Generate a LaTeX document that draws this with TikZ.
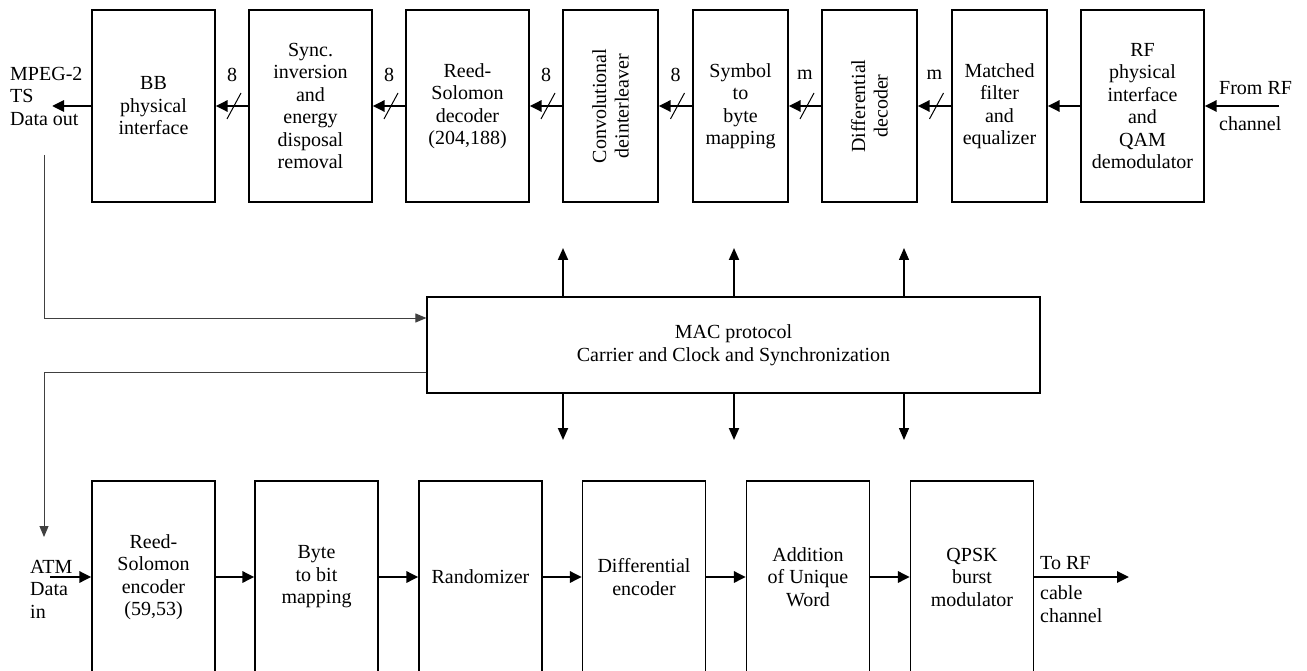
\documentclass[tikz,border=0pt]{standalone}
\usepackage{fontspec}
\setmainfont{Liberation Serif}
\usetikzlibrary{arrows.meta,calc}
\newcommand\blockfont{\fontsize{20}{22.5}\selectfont}
\begin{document}
\begin{tikzpicture}[x=1pt,y=-1pt,
  blk/.style={draw, line width=1.2pt, inner sep=0pt, align=center, font=\blockfont,
              minimum height=192pt},
  wide/.style={blk, minimum width=123pt},
  narrow/.style={blk, minimum width=95pt},
  vert/.style={draw, line width=1.2pt, inner sep=0pt, align=center, font=\blockfont,
              rotate=90, minimum width=192pt, minimum height=95pt},
  lbl/.style={inner sep=0pt, align=left, font=\blockfont},
  chain/.style={line width=2.8pt, -{Triangle[length=12pt,width=11pt]}},
  ctl/.style={line width=1.9pt, -{Triangle[length=12pt,width=10pt]}},
  ctlthin/.style={line width=1.3pt, -{Triangle[length=12pt,width=10pt]}},
  fb/.style={line width=0.9pt, draw=black!75},
  fbarrow/.style={fb, -{Triangle[length=11pt,width=9pt]}},
  slash/.style={line width=1pt},
]
\useasboundingbox (0,0) rectangle (1307,671);
\fill[white] (0,0) rectangle (1307,671);

% ---------------- downstream receiver chain ----------------
\node[wide]   (bb)   at (153.5,106) {BB\\physical\\interface};
\node[wide]   (sync) at (310.5,106) {Sync.\\inversion\\and\\energy\\disposal\\removal};
\node[wide]   (rsd)  at (467.5,106) {Reed-\\Solomon\\decoder\\(204,188)};
\node[vert]   (conv) at (610.5,106) {Convolutional\\deinterleaver};
\node[narrow] (sym)  at (740.5,106) {Symbol\\to\\byte\\mapping};
\node[vert]   (diff) at (869.5,106) {Differential\\decoder};
\node[narrow] (mf)   at (999.5,106) {Matched\\filter\\and\\equalizer};
\node[wide]   (rf)   at (1142.5,106) {RF\\physical\\interface\\and\\QAM\\demodulator};

\coordinate (rfin) at (1279,106);
\coordinate (tsout) at (52,106);
\node[lbl, anchor=west] (fromrf) at (1219,88) {From RF};
\node[lbl, anchor=west] (fromch) at (1219,124) {channel};
\node[lbl, anchor=west] (mpeg) at (10,96) {MPEG-2\\TS\\Data out};

\draw[chain] (rfin) -- (rf.east);
\draw[chain] (rf.west) -- (mf.east);
\draw[chain] (mf.west) -- (diff.south);
\draw[chain] (diff.north) -- (sym.east);
\draw[chain] (sym.west) -- (conv.south);
\draw[chain] (conv.north) -- (rsd.east);
\draw[chain] (rsd.west) -- (sync.east);
\draw[chain] (sync.west) -- (bb.east);
\draw[chain] (bb.west) -- (tsout);

% bus-width marks on the parallel links
\foreach \a/\b/\w/\n in {sync.west/bb.east/8/s1, rsd.west/sync.east/8/s2,
                          conv.north/rsd.east/8/s3, sym.west/conv.south/8/s4,
                          diff.north/sym.east/m/s5, mf.west/diff.south/m/s6}{
  \coordinate (\n) at ($(\a)!0.5!(\b)+(2,0)$);
  \draw[slash] ($(\n)+(-7,13)$) -- ($(\n)+(7,-13)$);
  \node[lbl, font=\blockfont] (\n t) at ($(\n)+(-2,-31)$) {\w};
}

% ---------------- control block ----------------
\node[draw, line width=1.2pt, minimum width=613pt, minimum height=96pt, inner sep=0pt,
      align=center, font=\blockfont] (mac) at (733.5,345)
      {MAC protocol\\Carrier and Clock and Synchronization};

\coordinate (up1) at (563,248);
\coordinate (up2) at (734,248);
\coordinate (up3) at (904,248);
\coordinate (dn1) at (563,440);
\coordinate (dn2) at (734,440);
\coordinate (dn3) at (904,440);
\draw[ctl] (mac.north -| up1) -- (up1);
\draw[ctl] (mac.north -| up2) -- (up2);
\draw[ctlthin] (mac.north -| up3) -- (up3);
\draw[ctl] (mac.south -| dn1) -- (dn1);
\draw[ctl] (mac.south -| dn2) -- (dn2);
\draw[ctlthin] (mac.south -| dn3) -- (dn3);

% loop-back lines on the left
\coordinate (fbtop) at (44,155);
\coordinate (fbin) at (44,318);
\coordinate (fbout) at (44,372);
\coordinate (fbend) at (44,537);
\draw[fbarrow] (fbtop) -- (fbin) -- (fbin -| mac.west);
\draw[fbarrow] (fbout -| mac.west) -- (fbout) -- (fbend);

% ---------------- upstream transmitter chain ----------------
\node[wide] (rse)  at (153.5,577) {Reed-\\Solomon\\encoder\\(59,53)};
\node[wide] (b2b)  at (316.5,577) {Byte\\to bit\\mapping};
\node[wide] (rnd)  at (480.5,577) {Randomizer};
\node[wide] (denc) at (644,577) {Differential\\encoder};
\node[wide] (auw)  at (808,577) {Addition\\of Unique\\Word};
\node[wide] (qpsk) at (972,577) {QPSK\\burst\\modulator};

\coordinate (atmin) at (50,577);
\coordinate (rfout) at (1129,577);
\node[lbl, anchor=west] (atm) at (30,589) {ATM\\Data\\in};
\node[lbl, anchor=west] (torf) at (1040,563) {To RF};
\node[lbl, anchor=west] (tocab) at (1040,604) {cable\\channel};

\draw[chain] (atmin) -- (rse.west);
\draw[chain] (rse.east) -- (b2b.west);
\draw[chain] (b2b.east) -- (rnd.west);
\draw[chain] (rnd.east) -- (denc.west);
\draw[chain] (denc.east) -- (auw.west);
\draw[chain] (auw.east) -- (qpsk.west);
\draw[chain] (qpsk.east) -- (rfout);
\end{tikzpicture}
\end{document}
